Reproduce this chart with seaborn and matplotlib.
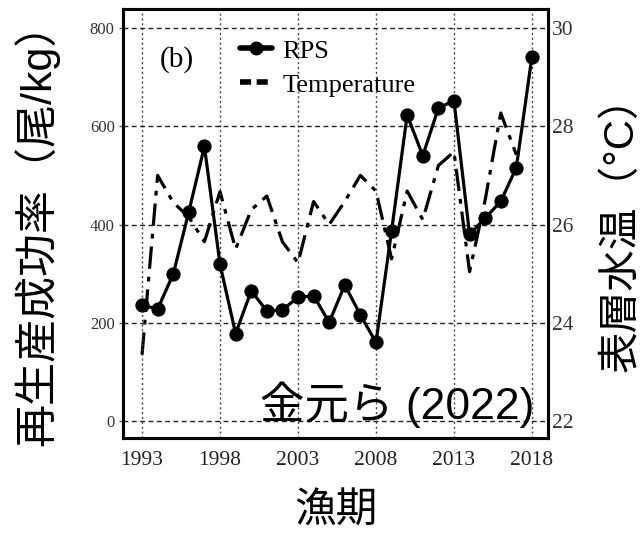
import numpy as np
import pandas as pd
import matplotlib
matplotlib.use("Agg")
import matplotlib.pyplot as plt
from matplotlib.lines import Line2D
import seaborn as sns

years = list(range(1993, 2019))
rps = [236, 228, 299, 426, 559, 319, 178, 265, 224, 226, 252, 255, 201,
       277, 216, 160, 387, 623, 540, 637, 652, 380, 413, 447, 516, 742]
temperature = [23.35, 27.0, 26.45, 26.15, 25.65, 26.67, 25.5, 26.3, 26.58,
               25.65, 25.22, 26.47, 26.0, 26.47, 27.0, 26.68, 25.3, 26.68,
               26.1, 27.2, 27.48, 25.04, 26.5, 28.27, 27.42, np.nan]
xticks = [1993, 1998, 2003, 2008, 2013, 2018]
left_ticks = [0, 200, 400, 600, 800]
right_ticks = [22, 24, 26, 28, 30]

sns.set_style("white")
plt.rcParams['font.family'] = ['Liberation Sans', 'Noto Sans CJK JP', 'DejaVu Sans']
plt.rcParams['text.color'] = 'black'
plt.rcParams['axes.labelcolor'] = 'black'
label_family = ['Liberation Sans', 'Noto Sans CJK JP', 'DejaVu Sans']

df = pd.DataFrame({"year": years, "rps": rps, "temp": temperature})

fig = plt.figure(figsize=(6.42, 5.33), dpi=100)
ax = fig.add_axes([0.1916, 0.1782, 0.6620, 0.8049])
ax2 = ax.twinx()

serif = "Liberation Serif"

sns.lineplot(data=df, x="year", y="rps", ax=ax, color="black", linewidth=2.3,
             marker="o", markersize=9.5, markeredgecolor="black", zorder=5)
sns.lineplot(data=df.dropna(), x="year", y="temp", ax=ax2, color="black",
             linewidth=2.3, linestyle=(0, (7, 2.5, 1.5, 2.5)), zorder=4)

ax.set_xlim(1991.78, 2019.03)
ax.set_ylim(-34.6, 838.7)
ax2.set_ylim(21.654, 30.387)

ax.set_xticks(xticks)
ax.set_yticks(left_ticks)
ax2.set_yticks(right_ticks)
ax.set_xticklabels([str(t) for t in xticks], fontfamily=serif, fontsize=15.5, color="#222222")
ax.set_yticklabels([str(t) for t in left_ticks], fontfamily=serif, fontsize=12, color="#333333")
ax2.set_yticklabels([str(t) for t in right_ticks], fontfamily=serif, fontsize=15.5, color="#333333")

ax.tick_params(axis="both", direction="out", length=3, width=1, color="#555555", pad=3)
ax.tick_params(axis="x", pad=6)
ax2.tick_params(axis="y", direction="in", length=0, pad=3)

ax.xaxis.grid(True, linestyle=(0, (1.5, 2)), color="#444444", linewidth=1)
ax.yaxis.grid(True, linestyle=(0, (3.5, 2.5)), color="#222222", linewidth=1)
ax.set_axisbelow(True)
ax.set_zorder(ax2.get_zorder() + 1)
ax.patch.set_visible(False)

for a in (ax, ax2):
    for s in a.spines.values():
        s.set_linewidth(2.2)
        s.set_color("black")

ax.set_xlabel("漁期", fontsize=30, labelpad=16, family=label_family, color="black")
ax.set_ylabel("再生産成功率（尾/kg）", fontsize=31, labelpad=22, family=label_family, color="black")
ax2.set_ylabel("表層水温（°C）", fontsize=30, labelpad=20, family=label_family, color="black")

ax.text(0.087, 0.865, "(b)", transform=ax.transAxes, fontfamily=serif,
        fontsize=21, ha="left", va="baseline", color="black")

handles = [
    Line2D([], [], color="black", linewidth=4, marker="o", markersize=9),
    Line2D([], [], color="black", linewidth=4, linestyle=(0, (2, 1))),
]
leg = ax.legend(handles, ["RPS", "Temperature"], loc="upper left",
                bbox_to_anchor=(0.22, 0.985), frameon=False,
                prop={"family": serif, "size": 19}, handlelength=1.2,
                handletextpad=0.4, labelspacing=0.4)
for t in leg.get_texts():
    t.set_color("black")

ax.text(0.969, 0.045, "金元ら (2022)", transform=ax.transAxes,
        fontsize=32, ha="right", va="baseline", zorder=10,
        family=label_family, color="black")

fig.savefig("out.png", dpi=100)
